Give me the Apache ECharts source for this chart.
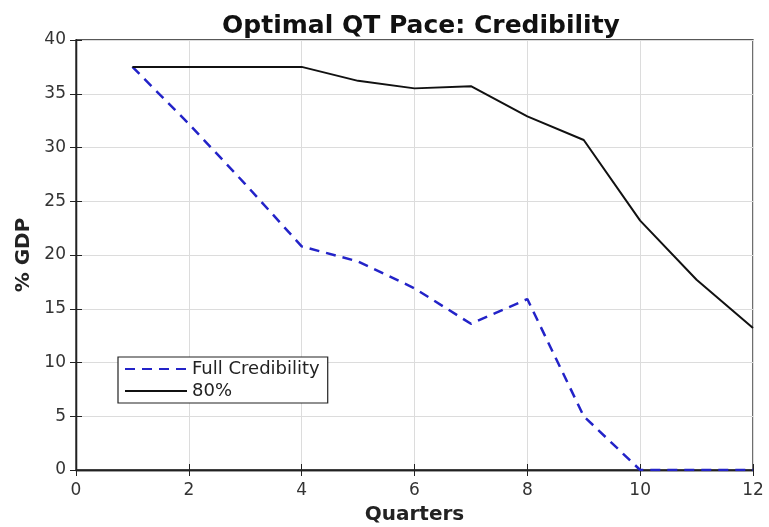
<!DOCTYPE html>
<html><head><meta charset="utf-8">
<script src="https://cdn.jsdelivr.net/npm/echarts@6/dist/echarts.min.js"></script>
<style>html,body{margin:0;padding:0;background:#fff}#c{width:769px;height:527px}</style>
</head><body><div id="c"></div>
<script>
const quarters = [1,2,3,4,5,6,7,8,9,10,11,12];
const fullCredibility = [37.5,32.2,26.6,20.8,19.4,16.9,13.6,15.9,5.0,0,0,0];
const credibility80 = [37.5,37.5,37.5,37.5,36.2,35.5,35.7,32.9,30.7,23.2,17.7,13.2];
const seriesNames = ['Full Credibility','80%'];
const titleText = 'Optimal QT Pace: Credibility';
const xName = 'Quarters';
const yName = '% GDP';

const chart = echarts.init(document.getElementById('c'));
const font = 'DejaVu Sans, Liberation Sans, sans-serif';
const tick = {show:true,inside:true,length:6,lineStyle:{color:'#222'}};
chart.setOption({
  animation:false,
  backgroundColor:'#fff',
  title:{text:titleText,left:416,top:9,textAlign:'center',
    textStyle:{fontFamily:font,fontSize:25,fontWeight:'bold',color:'#111'}},
  grid:{left:76,right:16,top:40,bottom:57,containLabel:false,outerBoundsMode:'none',
    show:true,borderColor:'#222',borderWidth:1.3,backgroundColor:'transparent'},
  legend:{orient:'vertical',left:118,top:357,
    itemWidth:62,itemHeight:14,itemGap:2,
    padding:[2,8,2,6],
    itemStyle:{opacity:0},
    borderColor:'#222',borderWidth:1.2,backgroundColor:'#fff',
    textStyle:{fontFamily:font,fontSize:18,lineHeight:20,color:'#222'},
    data:seriesNames},
  xAxis:[{type:'value',min:0,max:12,interval:2,position:'bottom',
    name:xName,nameLocation:'middle',nameGap:35,
    nameTextStyle:{fontFamily:font,fontSize:20,fontWeight:'bold',color:'#222'},
    axisLabel:{fontFamily:font,fontSize:17,color:'#333',margin:12},
    axisLine:{show:true,lineStyle:{color:'#222',width:1.3}},
    axisTick:tick,
    splitLine:{show:true,lineStyle:{color:'#dcdcdc',width:1}}},
   {type:'value',min:0,max:12,interval:2,position:'top',
    axisLine:{show:true,lineStyle:{color:'#222',width:1.3}},
    axisTick:tick,axisLabel:{show:false},splitLine:{show:false}}],
  yAxis:[{type:'value',min:0,max:40,interval:5,position:'left',
    name:yName,nameLocation:'middle',nameGap:42,
    nameTextStyle:{fontFamily:font,fontSize:20,fontWeight:'bold',color:'#222'},
    axisLabel:{fontFamily:font,fontSize:17,color:'#333',margin:10},
    axisLine:{show:true,lineStyle:{color:'#222',width:1.3}},
    axisTick:tick,
    splitLine:{show:true,lineStyle:{color:'#dcdcdc',width:1}}},
   {type:'value',min:0,max:40,interval:5,position:'right',
    axisLine:{show:true,lineStyle:{color:'#222',width:1.3}},
    axisTick:tick,axisLabel:{show:false},splitLine:{show:false}}],
  series:[
    {name:seriesNames[0],type:'line',symbol:'none',
     data:quarters.map((q,i)=>[q,fullCredibility[i]]),
     lineStyle:{color:'#2323c8',width:2.5,type:[10,7]},itemStyle:{color:'#2323c8'},z:3},
    {name:seriesNames[1],type:'line',symbol:'none',
     data:quarters.map((q,i)=>[q,credibility80[i]]),
     lineStyle:{color:'#111',width:2},itemStyle:{color:'#111'},z:4},
    {name:'_frame',type:'line',xAxisIndex:1,yAxisIndex:1,data:[],silent:true}
  ]
});
</script></body></html>
